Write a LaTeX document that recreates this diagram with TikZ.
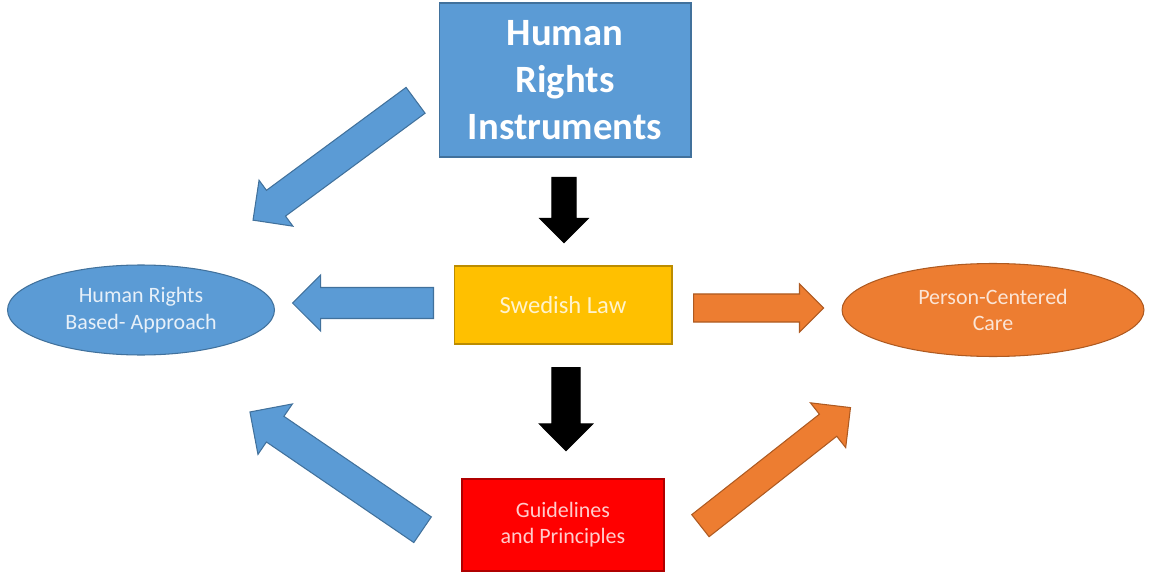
\documentclass[tikz,border=0pt]{standalone}
\usepackage{fontspec}
\setmainfont{Carlito}
\usetikzlibrary{shapes.geometric,shapes.arrows}
\definecolor{hrblue}{HTML}{5B9BD5}
\definecolor{hrblueline}{HTML}{41719C}
\definecolor{hrorange}{HTML}{ED7D31}
\definecolor{hrorangeline}{HTML}{AE5A21}
\definecolor{hryellow}{HTML}{FFC000}
\definecolor{hryellowline}{HTML}{BC8C00}
\definecolor{hrred}{HTML}{FF0000}
\definecolor{hrredline}{HTML}{B00000}
\tikzset{
  box/.style={rectangle, line width=0.6pt, align=center, inner sep=0pt},
  oval/.style={ellipse, line width=0.6pt, align=center, inner sep=0pt,
    font=\fontsize{12.5}{15.3}\selectfont},
  blockarrow/.style={single arrow, anchor=tail, inner xsep=0pt,
    minimum width=0pt, line width=0.6pt}
}
\begin{document}
\begin{tikzpicture}[x=0.02cm,y=-0.02cm]
  \useasboundingbox (0,0) rectangle (1149,574);
  % boxes
  \node[box, fill=hrblue, draw=hrblueline, text=white,
    minimum width=5.04cm, minimum height=3.08cm,
    font=\bfseries\fontsize{22}{26.9}\selectfont] (instr) at (565,80)
    {Human\\Rights\\Instruments};
  \node[box, fill=hryellow, draw=hryellowline, text=white!80!hryellow,
    minimum width=4.36cm, minimum height=1.56cm,
    font=\fontsize{14}{17}\selectfont] (law) at (563,305) {Swedish Law};
  \node[box, fill=hrred, draw=hrredline, text=white!80!hrred,
    minimum width=4.04cm, minimum height=1.84cm,
    font=\fontsize{12.5}{14.8}\selectfont] (guide) at (563,525)
    {Guidelines\\and Principles};
  \node[oval, fill=hrblue, draw=hrblueline, text=white!85!hrblue,
    minimum width=5.34cm, minimum height=1.80cm] (hrba) at (141,310)
    {Human Rights\\Based- Approach};
  \node[oval, fill=hrorange, draw=hrorangeline, text=white!80!hrorange,
    minimum width=6.04cm, minimum height=1.86cm] (pcc) at (993,310)
    {Person-Centered\\Care};
  % arrows
  \node[blockarrow, fill=hrblue, draw=hrblueline, minimum height=4.04cm,
    inner ysep=0.31cm, single arrow head extend=0.25cm, rotate=216.4]
    (instrhrba) at (416,100) {};
  \node[blockarrow, fill=black, draw=black, minimum height=1.30cm,
    inner ysep=0.23cm, single arrow head extend=0.24cm, rotate=270]
    (instrlaw) at (564,177) {};
  \node[blockarrow, fill=black, draw=black, minimum height=1.66cm,
    inner ysep=0.27cm, single arrow head extend=0.25cm, rotate=270]
    (lawguide) at (566,367) {};
  \node[blockarrow, fill=hrblue, draw=hrblueline, minimum height=2.82cm,
    inner ysep=0.30cm, single arrow head extend=0.25cm, rotate=180]
    (lawhrba) at (434,303) {};
  \node[blockarrow, fill=hrorange, draw=hrorangeline, minimum height=2.60cm,
    inner ysep=0.27cm, single arrow head extend=0.20cm, rotate=0]
    (lawpcc) at (693,308) {};
  \node[blockarrow, fill=hrblue, draw=hrblueline, minimum height=4.18cm,
    inner ysep=0.30cm, single arrow head extend=0.30cm, rotate=145.7]
    (guidehrba) at (423,530) {};
  \node[blockarrow, fill=hrorange, draw=hrorangeline, minimum height=3.82cm,
    inner ysep=0.27cm, single arrow head extend=0.29cm, rotate=38.2]
    (guidepcc) at (700,526) {};
\end{tikzpicture}
\end{document}
